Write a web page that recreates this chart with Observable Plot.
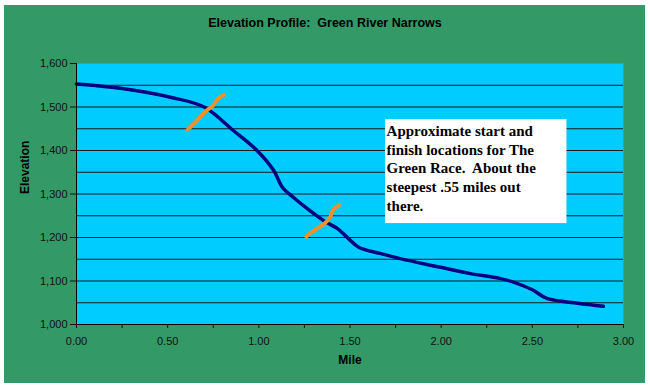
<!DOCTYPE html>
<html>
<head>
<meta charset="utf-8">
<script src="https://cdn.jsdelivr.net/npm/d3@7"></script>
<script src="https://cdn.jsdelivr.net/npm/@observablehq/plot@0.6"></script>
<style>
  body { margin: 0; background: #fff; }
  #wrap { position: relative; width: 650px; height: 389px; overflow: hidden; }
  #frame { position: absolute; left: 4px; top: 5px; width: 641px; height: 378px; background: #339966; }
  #title { position: absolute; left: 0; top: 16px; width: 650px; text-align: center;
           font: bold 12.5px "Liberation Sans", Arial, sans-serif; color: #000; white-space: pre; }
  #plot { position: absolute; left: 0; top: 42px; }
  #plot svg text { white-space: pre; }
</style>
</head>
<body>
<div id="wrap">
  <div id="frame"></div>
  <div id="title">Elevation Profile:  Green River Narrows</div>
  <div id="plot"></div>
</div>
<script>
// Elevation profile (mile, feet)
const miles      = [0.00, 0.24, 0.52, 0.70, 0.86, 0.99, 1.08, 1.13, 1.19, 1.28, 1.37, 1.43, 1.49, 1.55, 1.67, 1.77, 1.99, 2.16, 2.32, 2.40, 2.50, 2.58, 2.75, 2.89];
const elevations = [1553, 1543, 1522, 1500, 1446, 1400, 1355, 1315, 1292, 1262, 1235, 1221, 1198, 1177, 1163, 1152, 1132, 1117, 1106, 1097, 1080, 1060, 1049, 1042];

// Hand-drawn orange marks (start and finish)
const startMarkMiles = [0.61, 0.66, 0.70, 0.745, 0.78, 0.81];
const startMarkElevs = [1448, 1468, 1487, 1502, 1520, 1528];
const finishMarkMiles = [1.26, 1.30, 1.36, 1.39, 1.41, 1.44];
const finishMarkElevs = [1202, 1215, 1232, 1246, 1265, 1274];

// Annotation box
const noteBox = {x1: 1.695, x2: 2.69, y1: 1232, y2: 1471};
const noteText = "Approximate start and\nfinish locations for The\nGreen Race.  About the\nsteepest .55 miles out\nthere.";

// Axis ticks
const yTicks = [1000, 1100, 1200, 1300, 1400, 1500, 1600];
const yGrid = [1050, 1100, 1150, 1200, 1250, 1300, 1350, 1400, 1450, 1500, 1550];
const xTickLabels = [0, 0.5, 1, 1.5, 2, 2.5, 3];
const xTickMarks = [0, 0.25, 0.5, 0.75, 1, 1.25, 1.5, 1.75, 2, 2.25, 2.5, 2.75, 3];

const profile = miles.map((m, i) => ({mile: m, elev: elevations[i]}));
const startMark = startMarkMiles.map((m, i) => ({mile: m, elev: startMarkElevs[i]}));
const finishMark = finishMarkMiles.map((m, i) => ({mile: m, elev: finishMarkElevs[i]}));

const chart = Plot.plot({
  width: 650,
  height: 347,
  marginLeft: 76,
  marginRight: 27,
  marginTop: 21,
  marginBottom: 65,
  style: {background: "transparent", fontFamily: "'Liberation Sans', Arial, sans-serif", fontSize: "11px", color: "#111"},
  x: {domain: [0, 3]},
  y: {domain: [1000, 1600]},
  marks: [
    Plot.frame({fill: "#00ccff", stroke: null}),
    Plot.ruleY(yGrid, {stroke: "#1a1a1a", strokeWidth: 1}),
    Plot.rect([noteBox], {x1: "x1", x2: "x2", y1: "y1", y2: "y2", fill: "#fff"}),
    Plot.text([noteText], {x: noteBox.x1, y: noteBox.y2, text: d => d, textAnchor: "start", lineAnchor: "top",
      dx: 1, dy: 3, lineHeight: 1.25, fontSize: 15, fontWeight: "bold", fill: "#000",
      fontFamily: "'Liberation Serif', 'Times New Roman', serif"}),
    Plot.line(profile, {x: "mile", y: "elev", stroke: "#000080", strokeWidth: 3.5, curve: "catmull-rom"}),
    Plot.line(startMark, {x: "mile", y: "elev", stroke: "#f0902a", strokeWidth: 4, strokeLinecap: "round", curve: "catmull-rom"}),
    Plot.line(finishMark, {x: "mile", y: "elev", stroke: "#f0902a", strokeWidth: 4, strokeLinecap: "round", curve: "catmull-rom"}),
    Plot.ruleX([0], {stroke: "#000", strokeWidth: 1}),
    Plot.ruleY([1000], {stroke: "#000", strokeWidth: 1}),
    Plot.axisY({ticks: yTicks, tickFormat: d3.format(","), tickSize: 6, tickPadding: 3, label: null, fill: "#111"}),
    Plot.axisX({ticks: xTickMarks, tickFormat: () => "", tickSize: 4, label: null}),
    Plot.axisX({ticks: xTickLabels, tickFormat: d3.format(".2f"), tickSize: 0, tickPadding: 13, label: null, fill: "#111"}),
    Plot.text(["Elevation"], {frameAnchor: "left", rotate: -90, dx: -51, text: d => d, fontWeight: "bold", fontSize: 12, fill: "#000"}),
    Plot.text(["Mile"], {frameAnchor: "bottom", dy: 39, text: d => d, fontWeight: "bold", fontSize: 12, fill: "#000"})
  ]
});
document.getElementById("plot").appendChild(chart);
</script>
</body>
</html>
